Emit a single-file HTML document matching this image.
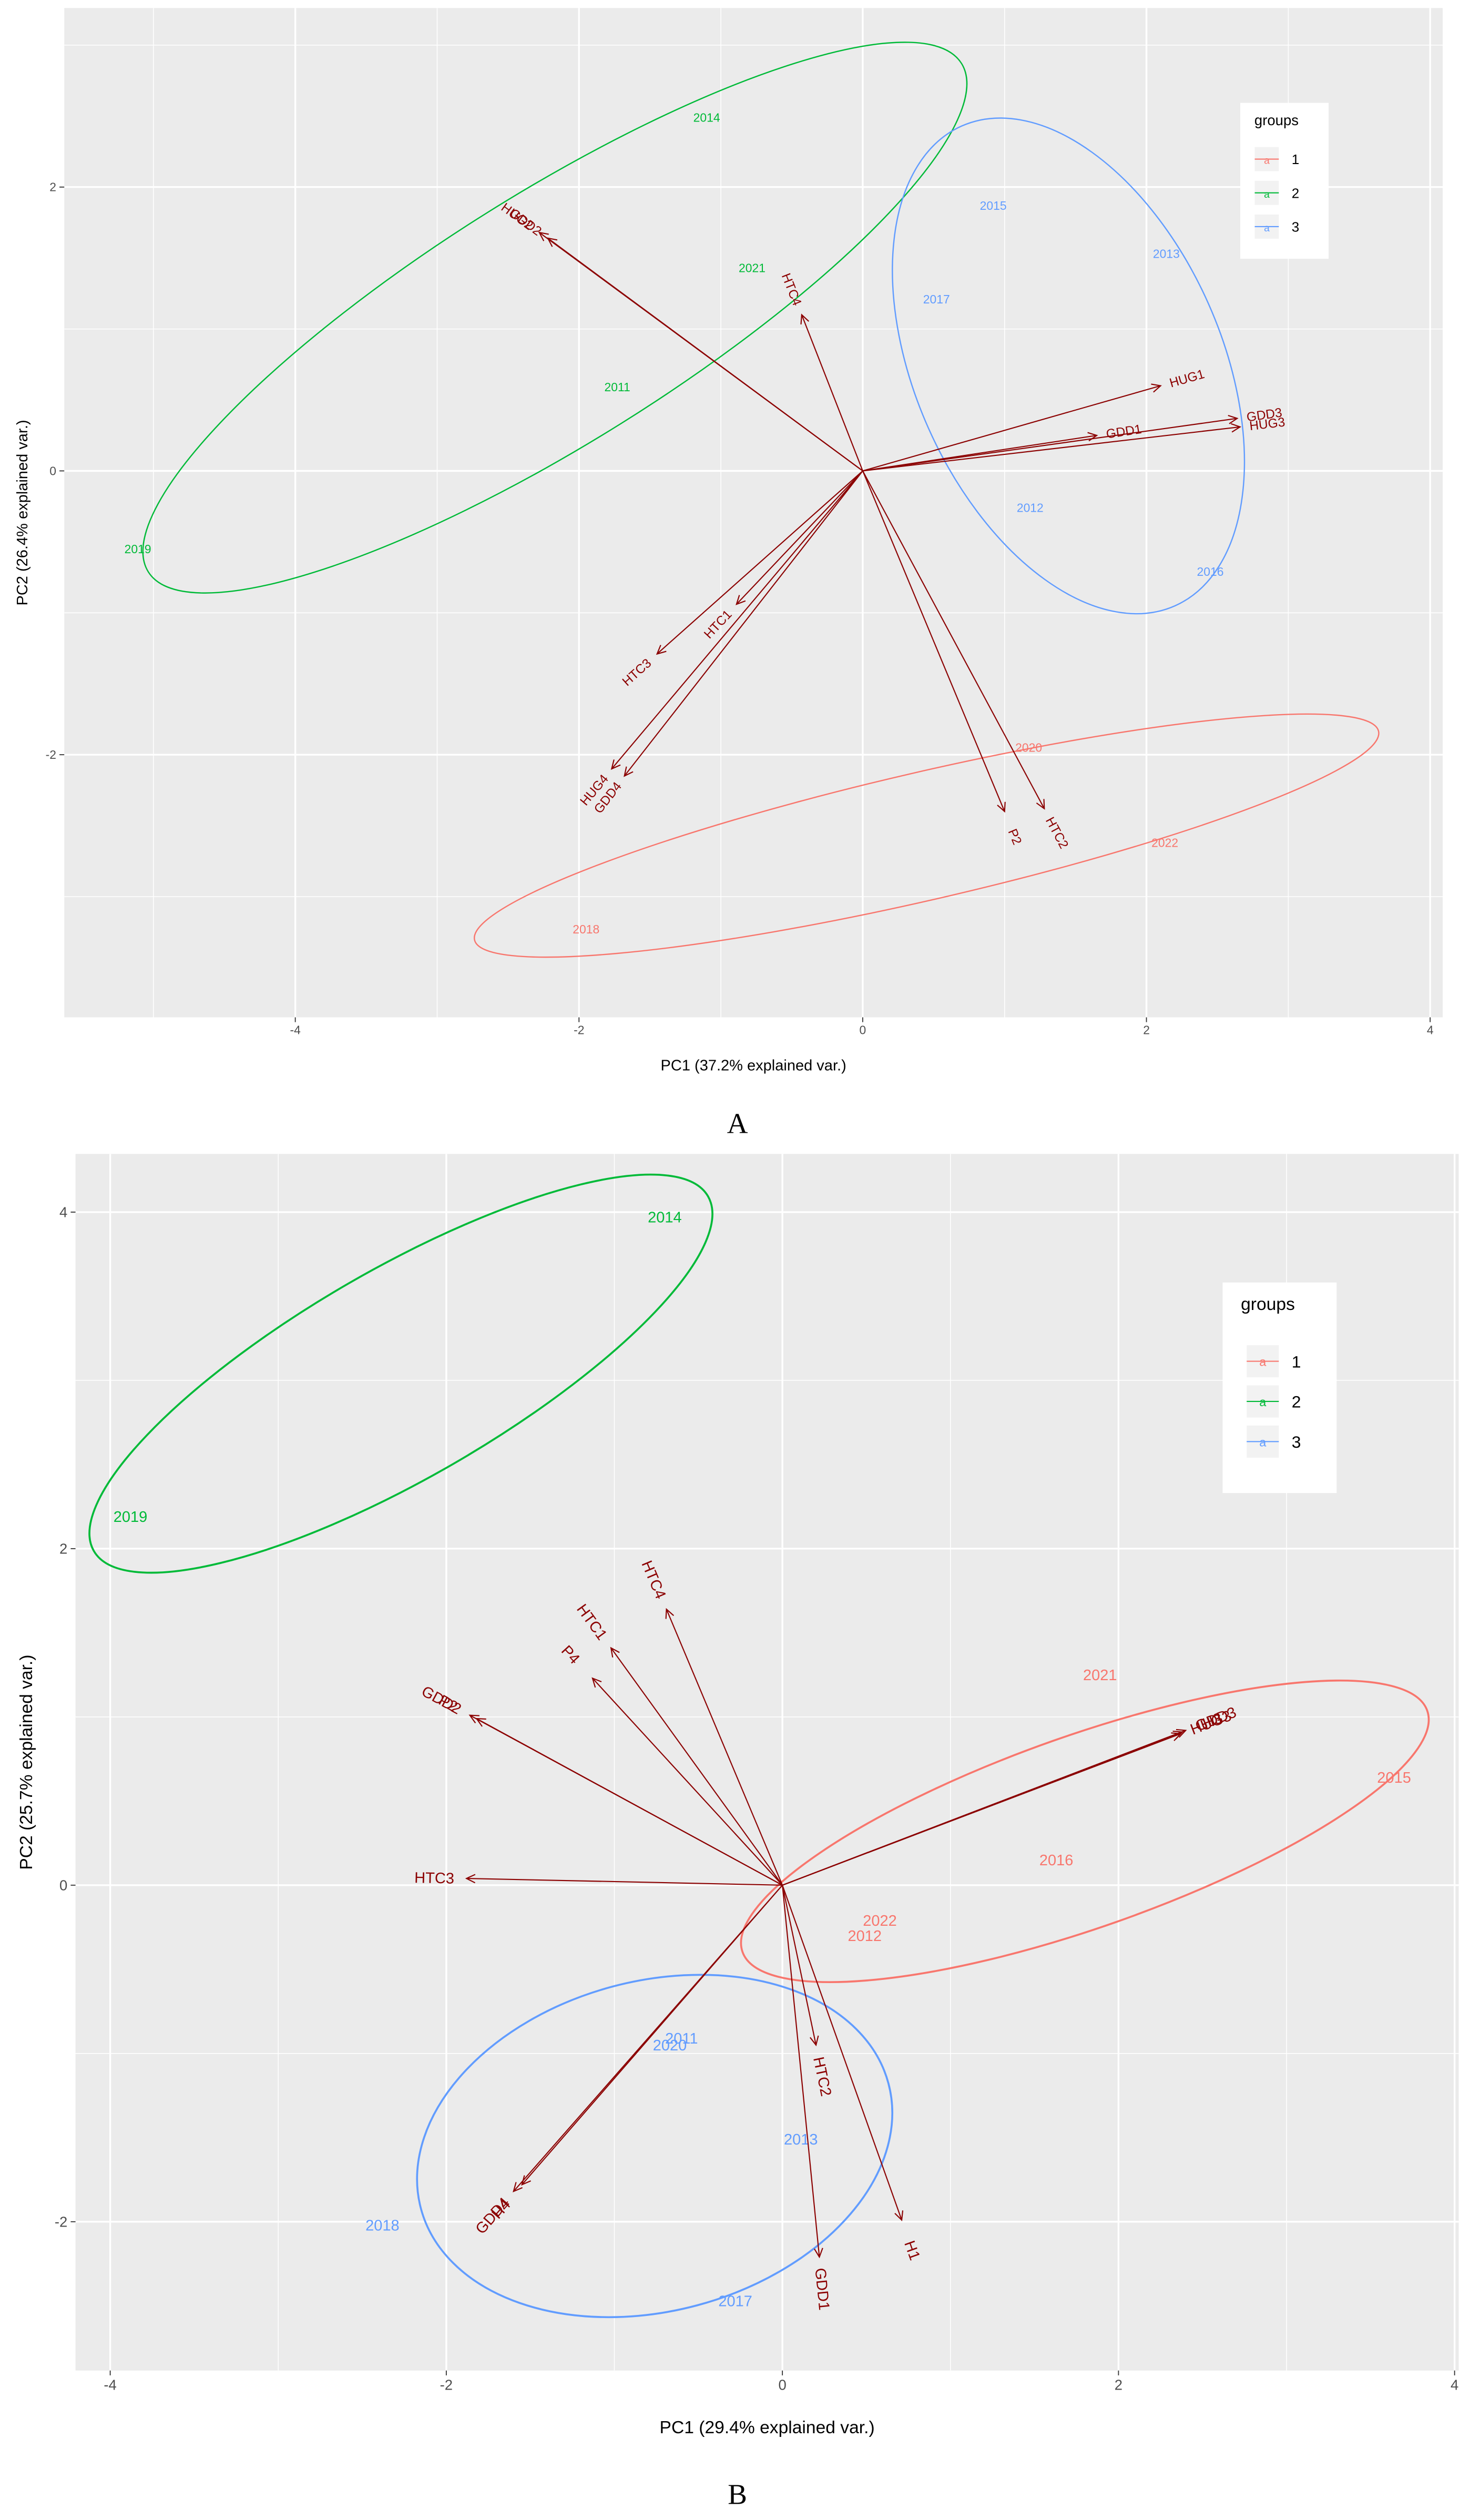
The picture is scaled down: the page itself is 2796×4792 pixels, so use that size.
<!DOCTYPE html>
<html><head><meta charset="utf-8"><style>
html,body{margin:0;padding:0;background:#fff;}
svg{display:block;}
text{font-family:"Liberation Sans",sans-serif;}
</style></head><body>
<svg id="fig" width="2796" height="4792" viewBox="0 0 915 1568" preserveAspectRatio="none" xmlns="http://www.w3.org/2000/svg">
<g id="pA"></g>
<g id="pB"></g>
</svg>
<script>
// ---------- Panel A data ----------
const aVarNames = ["HUG2","GDD2","HTC4","HUG1","GDD3","HUG3","GDD1","HTC1","HTC3","HUG4","GDD4","P2","HTC2"];
const aVarPC1 = [-2.28,-2.22,-0.43,2.10,2.64,2.66,1.65,-0.89,-1.45,-1.77,-1.68,1.00,1.28];
const aVarPC2 = [1.68,1.64,1.10,0.60,0.37,0.31,0.25,-0.94,-1.29,-2.10,-2.15,-2.40,-2.38];
const aYears = ["2014","2021","2011","2019","2015","2013","2017","2012","2016","2020","2022","2018"];
const aPC1 = [-1.10,-0.78,-1.73,-5.11,0.92,2.14,0.52,1.18,2.45,1.17,2.13,-1.95];
const aPC2 = [2.49,1.43,0.59,-0.55,1.87,1.53,1.21,-0.26,-0.71,-1.95,-2.62,-3.23];
const aGroup = [2,2,2,2,3,3,3,3,3,1,1,1];
const aEllCx = [-2.17,1.45,0.45];
const aEllCy = [1.08,0.74,-2.57];
const aEllA = [3.38,1.85,3.27];
const aEllB = [0.88,1.08,0.45];
const aEllAng = [32,-66,13];
const aEllGroup = [2,3,1];
const aXTicks = [-4,-2,0,2,4];
const aYTicks = [-2,0,2];
// ---------- Panel B data ----------
const bVarNames = ["HTC4","HTC1","P4","GDD2","P2","HTC3","HUG3","GDD3","H3","HTC2","H1","GDD1","GDD4","H4"];
const bVarPC1 = [-0.69,-1.02,-1.13,-1.86,-1.82,-1.88,2.37,2.40,2.38,0.20,0.71,0.22,-1.60,-1.55];
const bVarPC2 = [1.64,1.41,1.23,1.01,0.99,0.04,0.90,0.92,0.91,-0.95,-1.99,-2.21,-1.82,-1.78];
const bYears = ["2014","2019","2021","2015","2016","2022","2012","2011","2020","2013","2018","2017"];
const bPC1 = [-0.70,-3.88,1.89,3.64,1.63,0.58,0.49,-0.60,-0.67,0.11,-2.38,-0.28];
const bPC2 = [3.97,2.19,1.25,0.64,0.15,-0.21,-0.30,-0.91,-0.95,-1.51,-2.02,-2.47];
const bGroup = [2,2,1,1,1,1,1,3,3,3,3,3];
const bEllCx = [-2.27,1.80,-0.76];
const bEllCy = [3.04,0.32,-1.55];
const bEllA = [2.11,2.16,1.44];
const bEllB = [0.62,0.57,0.98];
const bEllAng = [30,19.4,15];
const bEllGroup = [2,1,3];
const bXTicks = [-4,-2,0,2,4];
const bYTicks = [-2,0,2,4];

const COL = {1:"#F8766D",2:"#00BA38",3:"#619CFF"};
const NS = "http://www.w3.org/2000/svg";
function mk(tag, attrs, parent){const e=document.createElementNS(NS,tag);for(const k in attrs)e.setAttribute(k,attrs[k]);parent.appendChild(e);return e;}

function panel(g, cfg){
  const sx = u => cfg.x0 + cfg.kx*u;
  const sy = v => cfg.y0 - cfg.ky*v;
  const L=cfg.left,R=cfg.right,T=cfg.top,B=cfg.bottom;
  const bg = mk('rect',{x:L,y:T,width:R-L,height:B-T,fill:'#EBEBEB'},g);
  
  
  const grid = mk('g',{},g);
  
  
  const u0=Math.ceil((L-cfg.x0)/cfg.kx), u1=Math.floor((R-cfg.x0)/cfg.kx);
  for(let u=u0;u<=u1;u++){const major=(u%2===0);mk('line',{x1:sx(u),x2:sx(u),y1:T,y2:B,stroke:'#fff','stroke-width':major?1.1:0.5},grid);}
  const v0=Math.ceil((cfg.y0-B)/cfg.ky), v1=Math.floor((cfg.y0-T)/cfg.ky);
  for(let v=v0;v<=v1;v++){const major=(v%2===0);mk('line',{y1:sy(v),y2:sy(v),x1:L,x2:R,stroke:'#fff','stroke-width':major?1.1:0.5},grid);}
  cfg.xt.forEach(t=>{
    const tk=mk('line',{x1:sx(t),x2:sx(t),y1:B,y2:B+3,stroke:'#333','stroke-width':0.6},g);
    
    
    const tl=mk('text',{x:sx(t),y:B+cfg.fs+3,'font-size':cfg.fs,fill:'#4d4d4d','text-anchor':'middle'},g);
    tl.textContent=t;
    
    
  });
  cfg.yt.forEach(t=>{
    const tk=mk('line',{x1:L-3,x2:L,y1:sy(t),y2:sy(t),stroke:'#333','stroke-width':0.6},g);
    
    
    const tl=mk('text',{x:L-5,y:sy(t)+cfg.fs*0.35,'font-size':cfg.fs,fill:'#4d4d4d','text-anchor':'end'},g);
    tl.textContent=t;
    
    
  });
  const xt=mk('text',{x:(L+R)/2,y:cfg.xtitleY,'font-size':cfg.tfs,fill:'#000','text-anchor':'middle'},g);
  xt.textContent=cfg.xtitle;
  
  
  const yt=mk('text',{x:0,y:0,'font-size':cfg.tfs,fill:'#000','text-anchor':'middle',transform:`translate(${cfg.ytitleX},${(T+B)/2}) rotate(-90)`},g);
  yt.textContent=cfg.ytitle;
  
  
  cfg.ecx.forEach((c,i)=>{
    const e=mk('ellipse',{cx:sx(c),cy:sy(cfg.ecy[i]),rx:cfg.ea[i]*cfg.kx,ry:cfg.eb[i]*cfg.ky,fill:'none',stroke:COL[cfg.eg[i]],'stroke-width':cfg.ew,transform:`rotate(${-cfg.eang[i]} ${sx(c)} ${sy(cfg.ecy[i])})`},g);
    
    
  });
  cfg.years.forEach((y,i)=>{
    const t=mk('text',{x:sx(cfg.p1[i]),y:sy(cfg.p2[i])+cfg.pfs*0.35,'font-size':cfg.pfs,fill:COL[cfg.grp[i]],'text-anchor':'middle'},g);
    t.textContent=y;
    
    
  });
  const ox=sx(0), oy=sy(0);
  cfg.vn.forEach((n,i)=>{
    const tx=sx(cfg.v1[i]), ty=sy(cfg.v2[i]);
    const ag=mk('g',{},g);
    
    
    mk('line',{x1:ox,y1:oy,x2:tx,y2:ty,stroke:'#8B0000','stroke-width':0.7},ag);
    const a=Math.atan2(ty-oy,tx-ox), h=6, w=0.45;
    const p1=[tx-h*Math.cos(a-w),ty-h*Math.sin(a-w)], p2=[tx-h*Math.cos(a+w),ty-h*Math.sin(a+w)];
    mk('polyline',{points:`${p1} ${tx},${ty} ${p2}`,fill:'none',stroke:'#8B0000','stroke-width':0.7},ag);
    let deg=a*180/Math.PI; if(deg>90)deg-=180; if(deg<-90)deg+=180;
    const lx=tx+cfg.loff*Math.cos(a), ly=ty+cfg.loff*Math.sin(a);
    const t=mk('text',{x:lx,y:ly+cfg.vfs*0.35,'font-size':cfg.vfs,fill:'#8B0000','text-anchor':'middle',transform:`rotate(${deg} ${lx} ${ly})`},ag);
    t.textContent=n;
  });
  const lg=mk('g',{},g);
  
  
  const Lg=cfg.leg;
  mk('rect',{x:Lg.x,y:Lg.y,width:Lg.w,height:Lg.h,fill:'#fff'},lg);
  const lt=mk('text',{x:Lg.x+Lg.w*0.16,y:Lg.y+Lg.fs*1.55,'font-size':Lg.fs,fill:'#000'},lg);
  lt.textContent='groups';
  [1,2,3].forEach((k,i)=>{
    const yy=Lg.y+Lg.e0+i*Lg.de;
    const en=mk('g',{},lg);
    
    
    mk('rect',{x:Lg.kx,y:yy-Lg.ks/2,width:Lg.ks,height:Lg.ks,fill:'#F2F2F2'},en);
    mk('line',{x1:Lg.kx,x2:Lg.kx+Lg.ks,y1:yy,y2:yy,stroke:COL[k],'stroke-width':0.7},en);
    const a=mk('text',{x:Lg.kx+Lg.ks/2,y:yy+3,'font-size':Lg.fs*0.7,fill:COL[k],'text-anchor':'middle'},en);a.textContent='a';
    const tt=mk('text',{x:Lg.kx+Lg.ks+8,y:yy+Lg.fs*0.35,'font-size':Lg.fs*0.95,fill:'#000'},en);tt.textContent=k;
  });
  const cap=mk('text',{x:cfg.capX,y:cfg.capY,'font-size':18,fill:'#000','text-anchor':'middle'},g);
  cap.style.fontFamily='"Liberation Serif",serif';
  cap.textContent=cfg.cap;
  
  
}

panel(document.getElementById('pA'),{left:40,right:898,top:5,bottom:633,x0:537,kx:88.3,y0:293,ky:88.3,
  xt:aXTicks,yt:aYTicks,fs:7.5,tfs:9.5,xtitle:'PC1 (37.2% explained var.)',ytitle:'PC2 (26.4% explained var.)',xtitleY:666,ytitleX:17,
  ecx:aEllCx,ecy:aEllCy,ea:aEllA,eb:aEllB,eang:aEllAng,eg:aEllGroup,ew:0.8,
  years:aYears,p1:aPC1,p2:aPC2,grp:aGroup,pfs:7.5,
  vn:aVarNames,v1:aVarPC1,v2:aVarPC2,vfs:8,loff:17,
  leg:{x:772,y:64,w:55,h:97,fs:9,e0:35,de:21,kx:781,ks:15},cap:'A',capX:459,capY:705});
panel(document.getElementById('pB'),{left:47,right:908,top:718,bottom:1475,x0:487,kx:104.6,y0:1173,ky:104.7,
  xt:bXTicks,yt:bYTicks,fs:9,tfs:11,xtitle:'PC1 (29.4% explained var.)',ytitle:'PC2 (25.7% explained var.)',xtitleY:1514,ytitleX:20,
  ecx:bEllCx,ecy:bEllCy,ea:bEllA,eb:bEllB,eang:bEllAng,eg:bEllGroup,ew:1.2,
  years:bYears,p1:bPC1,p2:bPC2,grp:bGroup,pfs:9.5,
  vn:bVarNames,v1:bVarPC1,v2:bVarPC2,vfs:9.5,loff:20,
  leg:{x:761,y:798,w:71,h:131,fs:11,e0:49,de:25,kx:776,ks:20},cap:'B',capX:459,capY:1558});
</script>
</body></html>
